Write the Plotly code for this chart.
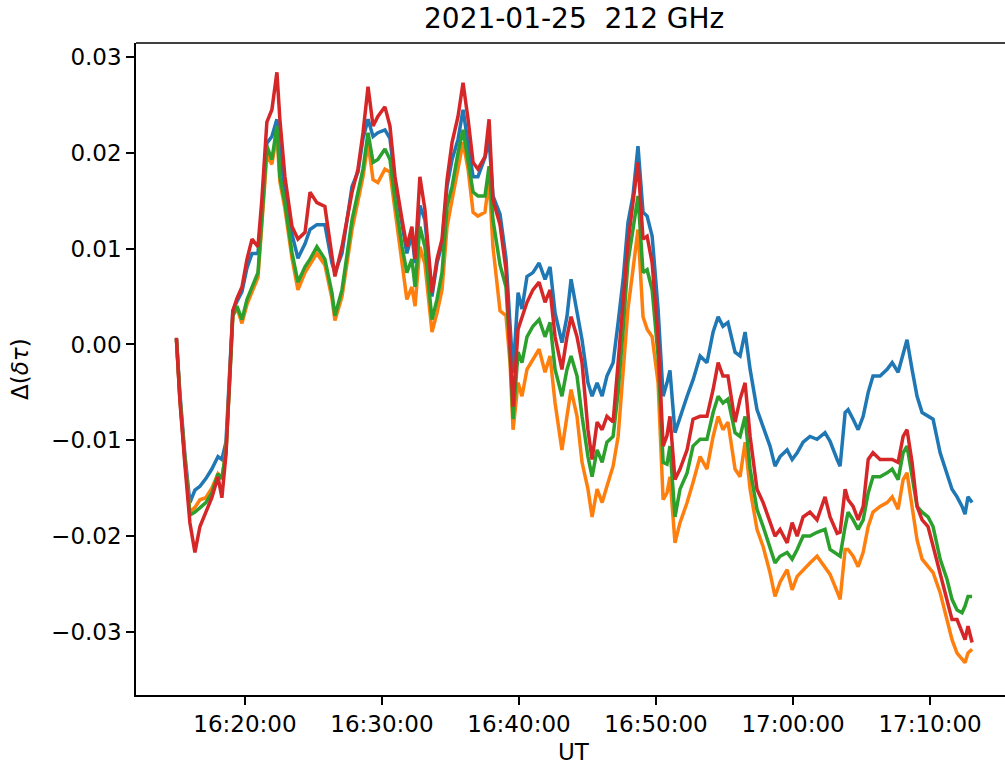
import plotly.graph_objects as go

# Observation date and UT sample times
DATE = "2021-01-25"
times = [
    "16:15:00", "16:15:15", "16:15:37", "16:15:59", "16:16:21", "16:16:43", "16:17:09", "16:17:35", "16:18:02", "16:18:19",
    "16:18:37", "16:18:54", "16:19:07", "16:19:25", "16:19:47", "16:20:09", "16:20:31", "16:20:57", "16:21:14", "16:21:36",
    "16:21:58", "16:22:20", "16:22:33", "16:22:55", "16:23:26", "16:23:52", "16:24:23", "16:24:45", "16:25:15", "16:25:50",
    "16:26:21", "16:26:34", "16:27:05", "16:27:49", "16:28:15", "16:28:37", "16:28:59", "16:29:21", "16:29:42", "16:30:13",
    "16:30:35", "16:30:57", "16:31:28", "16:31:49", "16:32:11", "16:32:25", "16:32:46", "16:33:08", "16:33:39", "16:34:01",
    "16:34:23", "16:34:45", "16:35:07", "16:35:33", "16:35:55", "16:36:17", "16:36:39", "16:37:00", "16:37:31", "16:37:49",
    "16:38:06", "16:38:37", "16:39:03", "16:39:21", "16:39:34", "16:39:56", "16:40:13", "16:40:35", "16:41:01", "16:41:28",
    "16:41:54", "16:42:16", "16:42:38", "16:43:08", "16:43:30", "16:43:48", "16:44:14", "16:44:36", "16:45:02", "16:45:20",
    "16:45:42", "16:46:04", "16:46:25", "16:46:52", "16:47:14", "16:47:36", "16:47:57", "16:48:19", "16:48:41", "16:49:03",
    "16:49:21", "16:49:43", "16:50:09", "16:50:31", "16:50:48", "16:51:01", "16:51:23", "16:51:45", "16:52:16", "16:52:42",
    "16:53:13", "16:53:43", "16:54:10", "16:54:32", "16:54:53", "16:55:15", "16:55:46", "16:56:08", "16:56:30", "16:56:52",
    "16:57:22", "16:57:49", "16:58:19", "16:58:41", "16:59:03", "16:59:34", "16:59:56", "17:00:18", "17:00:44", "17:01:14",
    "17:01:45", "17:02:20", "17:02:42", "17:03:13", "17:03:26", "17:03:48", "17:04:01", "17:04:23", "17:04:45", "17:05:07",
    "17:05:29", "17:05:50", "17:06:21", "17:06:52", "17:07:14", "17:07:40", "17:08:02", "17:08:19", "17:08:41", "17:09:03",
    "17:09:25", "17:09:51", "17:10:13", "17:10:44", "17:11:14", "17:11:36", "17:11:58", "17:12:20", "17:12:33", "17:12:46",
    "17:13:04",
]

# Delta(delta tau) for the four channels
ch_blue = [
    0.0006, -0.0050, -0.0115, -0.0165, -0.0152, -0.0148, -0.0140, -0.0130, -0.0117, -0.0120,
    -0.0102, -0.0030, 0.0035, 0.0045, 0.0055, 0.0080, 0.0095, 0.0095, 0.0140, 0.0210,
    0.0217, 0.0235, 0.0200, 0.0160, 0.0115, 0.0090, 0.0105, 0.0120, 0.0125, 0.0125,
    0.0085, 0.0075, 0.0095, 0.0165, 0.0180, 0.0215, 0.0235, 0.0217, 0.0221, 0.0224,
    0.0215, 0.0170, 0.0125, 0.0095, 0.0115, 0.0085, 0.0145, 0.0130, 0.0050, 0.0085,
    0.0105, 0.0165, 0.0193, 0.0214, 0.0245, 0.0211, 0.0175, 0.0175, 0.0195, 0.0214,
    0.0155, 0.0136, 0.0090, 0.0020, -0.0030, 0.0054, 0.0037, 0.0071, 0.0075, 0.0085,
    0.0068, 0.0081, 0.0033, 0.0002, 0.0029, 0.0068, 0.0033, 0.0005, -0.0040, -0.0054,
    -0.0040, -0.0054, -0.0033, -0.0019, 0.0023, 0.0068, 0.0127, 0.0155, 0.0207, 0.0138,
    0.0134, 0.0113, 0.0037, -0.0054, -0.0040, -0.0027, -0.0092, -0.0075, -0.0054, -0.0037,
    -0.0012, -0.0019, 0.0013, 0.0029, 0.0019, 0.0023, -0.0008, -0.0012, 0.0013, -0.0026,
    -0.0068, -0.0086, -0.0106, -0.0127, -0.0117, -0.0110, -0.0120, -0.0113, -0.0102, -0.0096,
    -0.0099, -0.0092, -0.0101, -0.0120, -0.0127, -0.0071, -0.0068, -0.0078, -0.0089, -0.0075,
    -0.0050, -0.0033, -0.0033, -0.0026, -0.0019, -0.0029, -0.0008, 0.0005, -0.0026, -0.0054,
    -0.0071, -0.0075, -0.0078, -0.0113, -0.0134, -0.0151, -0.0159, -0.0169, -0.0177, -0.0159,
    -0.0165,
]
ch_orange = [
    0.0005, -0.0055, -0.0120, -0.0175, -0.0170, -0.0162, -0.0160, -0.0150, -0.0135, -0.0140,
    -0.0110, -0.0035, 0.0030, 0.0038, 0.0022, 0.0042, 0.0055, 0.0070, 0.0125, 0.0198,
    0.0188, 0.0220, 0.0170, 0.0142, 0.0090, 0.0057, 0.0075, 0.0083, 0.0095, 0.0083,
    0.0048, 0.0025, 0.0050, 0.0120, 0.0150, 0.0175, 0.0210, 0.0172, 0.0169, 0.0183,
    0.0180, 0.0141, 0.0089, 0.0047, 0.0060, 0.0040, 0.0102, 0.0084, 0.0013, 0.0033,
    0.0057, 0.0123, 0.0151, 0.0183, 0.0211, 0.0183, 0.0138, 0.0134, 0.0138, 0.0172,
    0.0102, 0.0035, 0.0030, -0.0020, -0.0089, -0.0040, -0.0054, -0.0026, -0.0016, -0.0005,
    -0.0029, -0.0012, -0.0061, -0.0110, -0.0075, -0.0047, -0.0075, -0.0123, -0.0151, -0.0180,
    -0.0151, -0.0165, -0.0148, -0.0127, -0.0096, -0.0033, 0.0037, 0.0078, 0.0120, 0.0029,
    0.0016, 0.0008, -0.0040, -0.0162, -0.0155, -0.0138, -0.0207, -0.0186, -0.0165, -0.0144,
    -0.0117, -0.0130, -0.0096, -0.0075, -0.0089, -0.0081, -0.0130, -0.0138, -0.0102, -0.0151,
    -0.0193, -0.0211, -0.0238, -0.0263, -0.0248, -0.0235, -0.0256, -0.0242, -0.0235, -0.0228,
    -0.0221, -0.0232, -0.0240, -0.0258, -0.0266, -0.0214, -0.0214, -0.0221, -0.0232, -0.0217,
    -0.0190, -0.0175, -0.0169, -0.0165, -0.0159, -0.0172, -0.0141, -0.0134, -0.0169, -0.0204,
    -0.0224, -0.0232, -0.0238, -0.0259, -0.0287, -0.0308, -0.0322, -0.0329, -0.0332, -0.0322,
    -0.0318,
]
ch_green = [
    0.0006, -0.0055, -0.0120, -0.0178, -0.0175, -0.0170, -0.0165, -0.0155, -0.0135, -0.0140,
    -0.0112, -0.0035, 0.0030, 0.0040, 0.0026, 0.0047, 0.0060, 0.0075, 0.0130, 0.0207,
    0.0193, 0.0228, 0.0175, 0.0148, 0.0096, 0.0065, 0.0081, 0.0089, 0.0102, 0.0089,
    0.0054, 0.0030, 0.0057, 0.0130, 0.0159, 0.0183, 0.0221, 0.0190, 0.0193, 0.0204,
    0.0193, 0.0151, 0.0102, 0.0075, 0.0089, 0.0060, 0.0123, 0.0102, 0.0026, 0.0047,
    0.0075, 0.0144, 0.0165, 0.0200, 0.0224, 0.0193, 0.0159, 0.0155, 0.0155, 0.0186,
    0.0130, 0.0083, 0.0060, -0.0010, -0.0078, -0.0008, -0.0019, 0.0008, 0.0019, 0.0026,
    0.0008, 0.0023, -0.0026, -0.0054, -0.0026, -0.0012, -0.0033, -0.0075, -0.0117, -0.0138,
    -0.0110, -0.0123, -0.0102, -0.0096, -0.0050, 0.0016, 0.0086, 0.0120, 0.0155, 0.0075,
    0.0078, 0.0057, -0.0012, -0.0123, -0.0125, -0.0106, -0.0180, -0.0151, -0.0134, -0.0106,
    -0.0099, -0.0099, -0.0071, -0.0054, -0.0061, -0.0057, -0.0092, -0.0096, -0.0075, -0.0130,
    -0.0172, -0.0190, -0.0211, -0.0228, -0.0221, -0.0217, -0.0224, -0.0214, -0.0200, -0.0200,
    -0.0196, -0.0193, -0.0214, -0.0219, -0.0221, -0.0190, -0.0175, -0.0183, -0.0193, -0.0183,
    -0.0155, -0.0138, -0.0138, -0.0134, -0.0130, -0.0141, -0.0113, -0.0106, -0.0138, -0.0169,
    -0.0175, -0.0180, -0.0190, -0.0224, -0.0245, -0.0266, -0.0277, -0.0280, -0.0273, -0.0263,
    -0.0263,
]
ch_red = [
    0.0007, -0.0058, -0.0125, -0.0186, -0.0217, -0.0190, -0.0175, -0.0160, -0.0138, -0.0160,
    -0.0115, -0.0030, 0.0035, 0.0048, 0.0060, 0.0089, 0.0110, 0.0102, 0.0151, 0.0232,
    0.0245, 0.0284, 0.0235, 0.0175, 0.0123, 0.0110, 0.0117, 0.0159, 0.0148, 0.0144,
    0.0089, 0.0071, 0.0102, 0.0159, 0.0183, 0.0221, 0.0269, 0.0228, 0.0238, 0.0248,
    0.0228, 0.0175, 0.0130, 0.0102, 0.0123, 0.0089, 0.0175, 0.0141, 0.0054, 0.0089,
    0.0110, 0.0172, 0.0211, 0.0238, 0.0273, 0.0235, 0.0190, 0.0183, 0.0196, 0.0235,
    0.0151, 0.0125, 0.0078, 0.0000, -0.0065, 0.0016, 0.0029, 0.0044, 0.0057, 0.0065,
    0.0044, 0.0057, 0.0008, -0.0026, 0.0008, 0.0029, 0.0008, -0.0019, -0.0089, -0.0120,
    -0.0081, -0.0089, -0.0075, -0.0081, -0.0019, 0.0044, 0.0106, 0.0148, 0.0190, 0.0110,
    0.0113, 0.0085, 0.0008, -0.0106, -0.0095, -0.0075, -0.0141, -0.0130, -0.0110, -0.0078,
    -0.0075, -0.0075, -0.0047, -0.0019, -0.0033, -0.0033, -0.0081, -0.0057, -0.0040, -0.0096,
    -0.0151, -0.0165, -0.0186, -0.0200, -0.0193, -0.0207, -0.0186, -0.0200, -0.0180, -0.0175,
    -0.0183, -0.0159, -0.0180, -0.0197, -0.0196, -0.0151, -0.0162, -0.0169, -0.0183, -0.0169,
    -0.0120, -0.0113, -0.0120, -0.0120, -0.0120, -0.0123, -0.0096, -0.0089, -0.0123, -0.0169,
    -0.0183, -0.0190, -0.0211, -0.0238, -0.0266, -0.0287, -0.0287, -0.0301, -0.0308, -0.0294,
    -0.0311,
]

series = [
    (ch_blue, "#1f77b4"),
    (ch_orange, "#ff7f0e"),
    (ch_green, "#2ca02c"),
    (ch_red, "#d62728"),
]

x_ticks = ["16:20:00", "16:30:00", "16:40:00", "16:50:00", "17:00:00", "17:10:00"]
y_ticks = [0.03, 0.02, 0.01, 0.00, -0.01, -0.02, -0.03]
y_ticktext = ["0.03", "0.02", "0.01", "0.00", "\u22120.01", "\u22120.02", "\u22120.03"]

stamps = [f"{DATE} {t}" for t in times]

fig = go.Figure()
for values, color in series:
    fig.add_trace(go.Scatter(
        x=stamps, y=values, mode="lines",
        line=dict(color=color, width=3.5),
        showlegend=False, hoverinfo="skip",
    ))

FONT = "DejaVu Sans"
axis_common = dict(
    showline=True, linecolor="black", linewidth=1.6,
    ticks="outside", ticklen=8, tickwidth=1.6, tickcolor="black",
    showgrid=False, zeroline=False,
    tickfont=dict(family=FONT, size=23, color="black"),
)

fig.update_layout(
    width=1005, height=771,
    margin=dict(l=136, r=0, t=43, b=76),
    paper_bgcolor="white", plot_bgcolor="white",
    xaxis=dict(
        type="date",
        range=[f"{DATE} 16:12:03", f"{DATE} 17:15:28"],
        tickvals=[f"{DATE} {t}" for t in x_ticks],
        ticktext=x_ticks,
        **axis_common,
    ),
    yaxis=dict(
        range=[-0.03658, 0.03146],
        tickvals=y_ticks,
        ticktext=y_ticktext,
        **axis_common,
    ),
    shapes=[dict(type="line", xref="paper", yref="paper", x0=0, x1=1, y0=1, y1=1,
                 line=dict(color="black", width=1.6))],
    annotations=[
        dict(text="2021-01-25  212 GHz", xref="paper", yref="paper", x=0.504, y=1.038,
             xanchor="center", yanchor="middle", showarrow=False,
             font=dict(family=FONT, size=28, color="black")),
        dict(text="UT", xref="paper", yref="paper", x=0.504, y=-0.0874,
             xanchor="center", yanchor="middle", showarrow=False,
             font=dict(family=FONT, size=23, color="black")),
        dict(text="\u0394(<i>\u03b4\u03c4</i>)", xref="paper", yref="paper", x=-0.1335, y=0.5,
             xanchor="center", yanchor="middle", textangle=-90, showarrow=False,
             font=dict(family=FONT, size=23, color="black")),
    ],
)

fig.write_html("out.html")
